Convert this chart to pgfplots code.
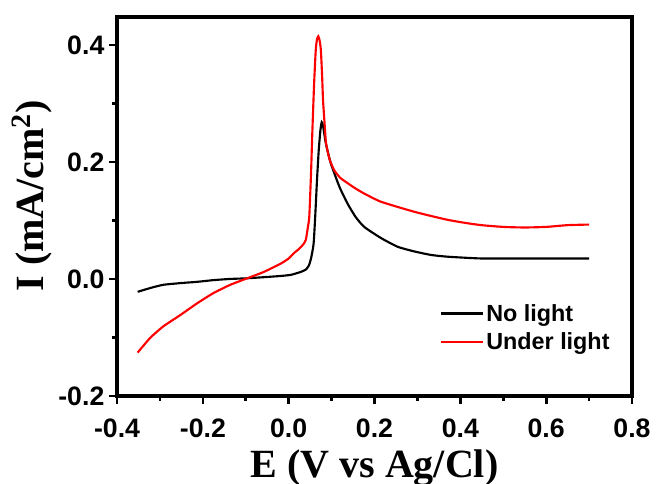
\documentclass[border=0pt]{standalone}
\usepackage{pgfplots}
\pgfplotsset{compat=1.18}
\usepackage{fontspec}
\setmainfont{Liberation Sans}
\newfontfamily\timesfont{Liberation Serif}

\begin{document}
\begin{tikzpicture}
\begin{axis}[
  scale only axis, width=386pt, height=284pt,
  xmin=-0.4, xmax=0.8, ymin=-0.2, ymax=0.448,
  xtick={-0.4,-0.2,0,0.2,0.4,0.6,0.8},
  ytick={-0.2,0,0.2,0.4},
  minor x tick num=1, minor y tick num=1,
  xtick pos=left, ytick pos=left,
  tick align=outside,
  major tick length=6pt, minor tick length=3.5pt,
  every tick/.style={black, line width=2pt},
  axis line style={line width=3pt},
  tick label style={font=\fontsize{20}{20}\selectfont\bfseries,
    /pgf/number format/fixed, /pgf/number format/fixed zerofill,
    /pgf/number format/precision=1, /pgf/number format/assume math mode=true},
  xticklabel style={yshift=-8pt},
  xlabel={\timesfont\bfseries E (V vs Ag/Cl)},
  ylabel={\timesfont\bfseries I (mA/cm\textsuperscript{2})},
  label style={font=\fontsize{30}{30}\selectfont},
  xlabel style={at={(axis description cs:0.5,0)}, anchor=base, yshift=-61pt},
  ylabel style={at={(axis description cs:0,0.5)}, anchor=base, xshift=8pt, yshift=55.5pt},
  legend style={draw=none, fill=none, font=\fontsize{17.5}{17.5}\selectfont\bfseries,
    at={(axis description cs:0.627,0.25)}, anchor=north west, inner sep=0pt,
    row sep=3pt},
  legend cell align=left,
  legend image code/.code={\draw[#1] (0pt,0pt) -- (31pt,0pt);},
]
\addplot[black, line width=1.6pt, smooth, tension=0.35] coordinates {
(-0.352,-0.022) (-0.32,-0.015) (-0.292,-0.010) (-0.25,-0.007) (-0.214,-0.005)
(-0.175,-0.002) (-0.136,0.000) (-0.10,0.001) (-0.058,0.003) (-0.02,0.005)
(0.005,0.007) (0.028,0.012) (0.04,0.016) (0.047,0.023) (0.052,0.035)
(0.058,0.060) (0.062,0.110) (0.066,0.170) (0.070,0.220) (0.074,0.255)
(0.077,0.268) (0.080,0.262) (0.0866,0.232) (0.098,0.198) (0.118,0.158)
(0.137,0.129) (0.156,0.106) (0.176,0.089) (0.215,0.070) (0.254,0.055)
(0.293,0.047) (0.332,0.041) (0.371,0.038) (0.449,0.035) (0.55,0.035)
(0.62,0.035) (0.70,0.035)
};
\addlegendentry{No light}
\addplot[red, line width=1.6pt, smooth, tension=0.35] coordinates {
(-0.352,-0.126) (-0.323,-0.101) (-0.292,-0.081) (-0.253,-0.062) (-0.214,-0.042)
(-0.175,-0.024) (-0.136,-0.010) (-0.097,0.001) (-0.058,0.012) (-0.019,0.026)
(0.00,0.035) (0.012,0.044) (0.025,0.052)
(0.036,0.061) (0.040,0.067) (0.045,0.090) (0.048,0.107) (0.052,0.180)
(0.055,0.249) (0.059,0.330) (0.063,0.391) (0.066,0.410) (0.069,0.415)
(0.072,0.408) (0.075,0.391) (0.078,0.345) (0.080,0.306) (0.084,0.262)
(0.087,0.232) (0.095,0.205) (0.106,0.186) (0.12,0.173) (0.137,0.164)
(0.155,0.155) (0.176,0.146) (0.20,0.137) (0.215,0.132) (0.25,0.124)
(0.292,0.115) (0.33,0.108) (0.371,0.101) (0.41,0.096) (0.449,0.092)
(0.50,0.089) (0.55,0.088) (0.60,0.089) (0.65,0.092) (0.70,0.093)
};
\addlegendentry{Under light}
\coordinate (bl) at (rel axis cs:0,0);
\coordinate (tr) at (rel axis cs:1,1);
\end{axis}
\pgfresetboundingbox
\path ([shift={(-87.75pt,-66pt)}]bl) rectangle ([shift={(18pt,12.75pt)}]tr);
\end{tikzpicture}
\end{document}
